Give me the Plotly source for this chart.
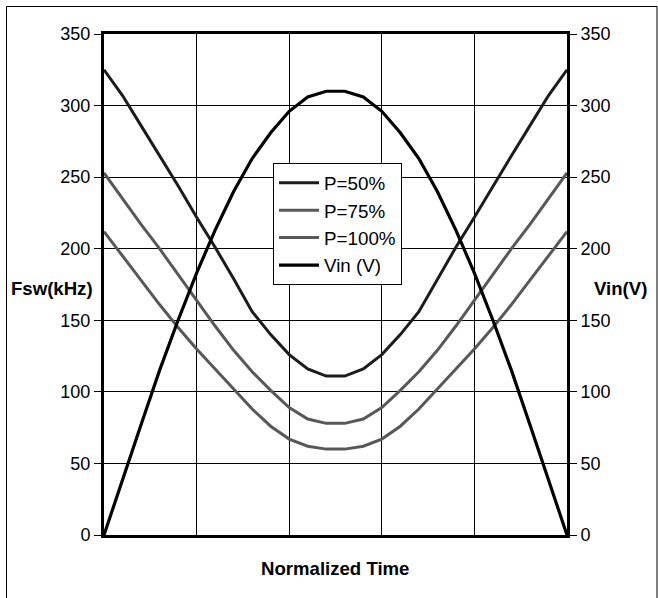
import plotly.graph_objects as go

# category index along normalized time (26 samples)
time_idx = [0, 1, 2, 3, 4, 5, 6, 7, 8, 9, 10, 11, 12, 13, 14, 15, 16, 17, 18, 19, 20, 21, 22, 23, 24, 25]

p50 = [325, 307, 286, 265, 244, 222, 201, 179, 156, 140, 126, 116, 111,
       111, 116, 126, 140, 156, 179, 201, 222, 244, 265, 286, 307, 325]
p75 = [253, 235, 217, 200, 182, 164, 146, 129, 114, 101, 89, 81, 78,
       78, 81, 89, 101, 114, 129, 146, 164, 182, 200, 217, 235, 253]
p100 = [212, 195, 178, 161, 145, 130, 116, 102, 88, 76, 67, 62, 60,
        60, 62, 67, 76, 88, 102, 116, 130, 145, 161, 178, 195, 212]
vin = [0, 39, 77, 115, 150, 183, 213, 240, 263, 281, 296, 306, 310,
       310, 306, 296, 281, 263, 240, 213, 183, 150, 115, 77, 39, 0]

y_ticks = [0, 50, 100, 150, 200, 250, 300, 350]

FONT = "Liberation Sans, Arial, sans-serif"
W, H = 658, 598
L, R, T, B = 104, 567, 34, 535  # plot area in pixels

fig = go.Figure()
fig.add_trace(go.Scatter(x=time_idx, y=p50, name="P=50%", mode="lines",
                         line=dict(color="#1c1c1c", width=3)))
fig.add_trace(go.Scatter(x=time_idx, y=p75, name="P=75%", mode="lines",
                         line=dict(color="#585858", width=3)))
fig.add_trace(go.Scatter(x=time_idx, y=p100, name="P=100%", mode="lines",
                         line=dict(color="#585858", width=3)))
fig.add_trace(go.Scatter(x=time_idx, y=vin, name="Vin (V)", mode="lines", yaxis="y2",
                         line=dict(color="#000000", width=3.2)))

def px2paper_x(px):
    return (px - L) / (R - L)

def px2paper_y(py):
    return (B - py) / (B - T)

fig.update_layout(
    width=W, height=H,
    margin=dict(l=L, r=W - R, t=T, b=H - B),
    paper_bgcolor="white", plot_bgcolor="white",
    font=dict(family=FONT, size=18, color="black"),
    showlegend=True,
    legend=dict(x=px2paper_x(273), y=px2paper_y(163), xanchor="left", yanchor="top",
                bgcolor="white", bordercolor="black", borderwidth=1,
                font=dict(size=18.8), itemwidth=40, tracegroupgap=0),
    xaxis=dict(range=[0, 25], dtick=5, tick0=0, showgrid=True, gridcolor="black",
               gridwidth=1, showticklabels=False, ticks="", zeroline=False,
               showline=True, linecolor="black", linewidth=3, mirror=True),
    yaxis=dict(range=[0, 350], tickvals=y_ticks, showgrid=True, gridcolor="black",
               gridwidth=1, ticks="outside", ticklen=7, tickwidth=1, tickcolor="black",
               zeroline=False, showline=True, linecolor="black", linewidth=3,
               tickfont=dict(size=18)),
    yaxis2=dict(range=[0, 350], tickvals=y_ticks, overlaying="y", side="right",
                showgrid=False, ticks="outside", ticklen=7, tickwidth=1, tickcolor="black",
                zeroline=False, showline=True, linecolor="black", linewidth=3,
                tickfont=dict(size=18)),
    shapes=[dict(type="rect", xref="paper", yref="paper",
                 x0=px2paper_x(6.5), x1=px2paper_x(657), y0=px2paper_y(600), y1=px2paper_y(6.5),
                 line=dict(color="black", width=1), fillcolor="rgba(0,0,0,0)", layer="below")],
    annotations=[
        dict(text="<b>Fsw(kHz)</b>", xref="paper", yref="paper", x=px2paper_x(9), y=px2paper_y(288),
             xanchor="left", yanchor="middle", showarrow=False, font=dict(size=18.6)),
        dict(text="<b>Vin(V)</b>", xref="paper", yref="paper", x=px2paper_x(592), y=px2paper_y(288),
             xanchor="left", yanchor="middle", showarrow=False, font=dict(size=18.6)),
        dict(text="<b>Normalized Time</b>", xref="paper", yref="paper", x=px2paper_x(335), y=px2paper_y(568),
             xanchor="center", yanchor="middle", showarrow=False, font=dict(size=18.6)),
    ],
)

fig.write_html("out.html")
